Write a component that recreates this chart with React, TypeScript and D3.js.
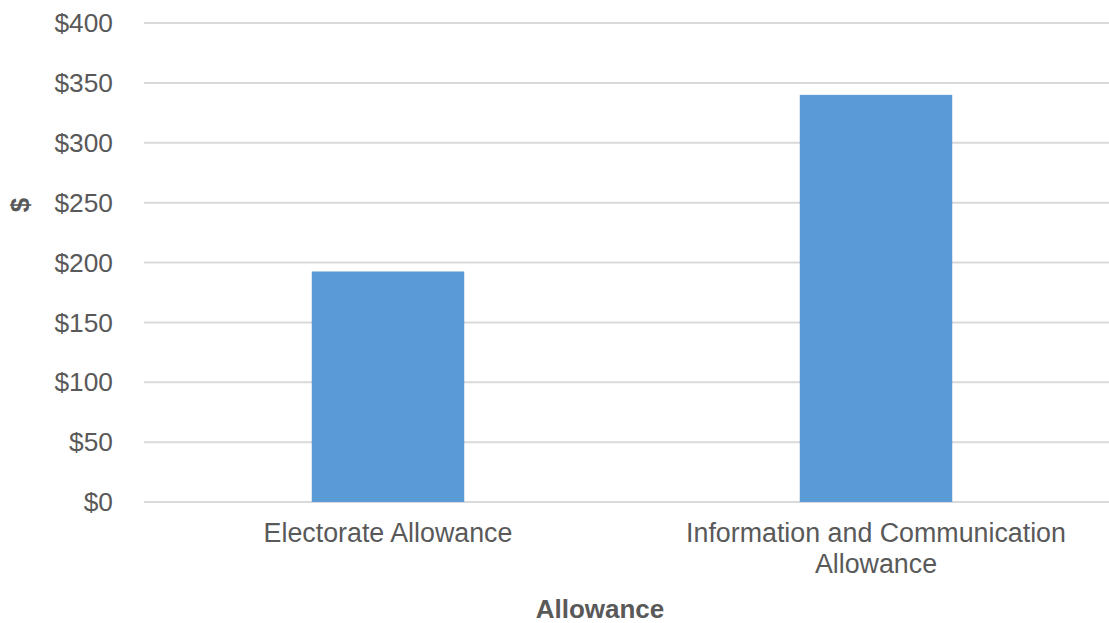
import React from "react";
import * as d3 from "d3";

const categories: string[][] = [["Electorate Allowance"], ["Information and Communication", "Allowance"]];
const values: number[] = [192.5, 340];
const yTicks: number[] = [0, 50, 100, 150, 200, 250, 300, 350, 400];

const W = 1109;
const H = 623;

export default function App() {
  const x = d3.scaleBand<number>().domain(categories.map((_, i) => i)).range([144, 1120]).padding(0);
  const y = d3.scaleLinear().domain([0, 400]).range([502, 23]);
  const bw = x.bandwidth() * 0.3125;
  const font = "'Liberation Sans', Arial, sans-serif";
  return (
    <svg width={W} height={H} style={{ position: "absolute", left: 0, top: 0 }} fontFamily={font}>
      <rect width={W} height={H} fill="#fff" />
      {yTicks.map((t) => (
        <g key={t}>
          <line x1={144} x2={1120} y1={y(t)} y2={y(t)} stroke="#d9d9d9" strokeWidth={2} />
          <text x={113} y={y(t)} dy="0.35em" textAnchor="end" fontSize={26.3} fill="#595959">
            {"$" + t}
          </text>
        </g>
      ))}
      {values.map((v, i) => (
        <rect
          key={i}
          x={(x(i) as number) + x.bandwidth() / 2 - bw / 2}
          y={y(v)}
          width={bw}
          height={y(0) - y(v)}
          fill="#5b9bd5"
        />
      ))}
      {categories.map((lines, i) => (
        <text key={i} textAnchor="middle" fontSize={26.8} fill="#595959">
          {lines.map((l, j) => (
            <tspan key={j} x={(x(i) as number) + x.bandwidth() / 2} y={542 + j * 31}>
              {l}
            </tspan>
          ))}
        </text>
      ))}
      <text x={600} y={618} textAnchor="middle" fontSize={26} fontWeight="bold" fill="#595959">
        Allowance
      </text>
      <text
        transform={`translate(29,205) rotate(-90)`}
        textAnchor="middle"
        fontSize={26}
        fontWeight="bold"
        fill="#595959"
      >
        $
      </text>
    </svg>
  );
}
